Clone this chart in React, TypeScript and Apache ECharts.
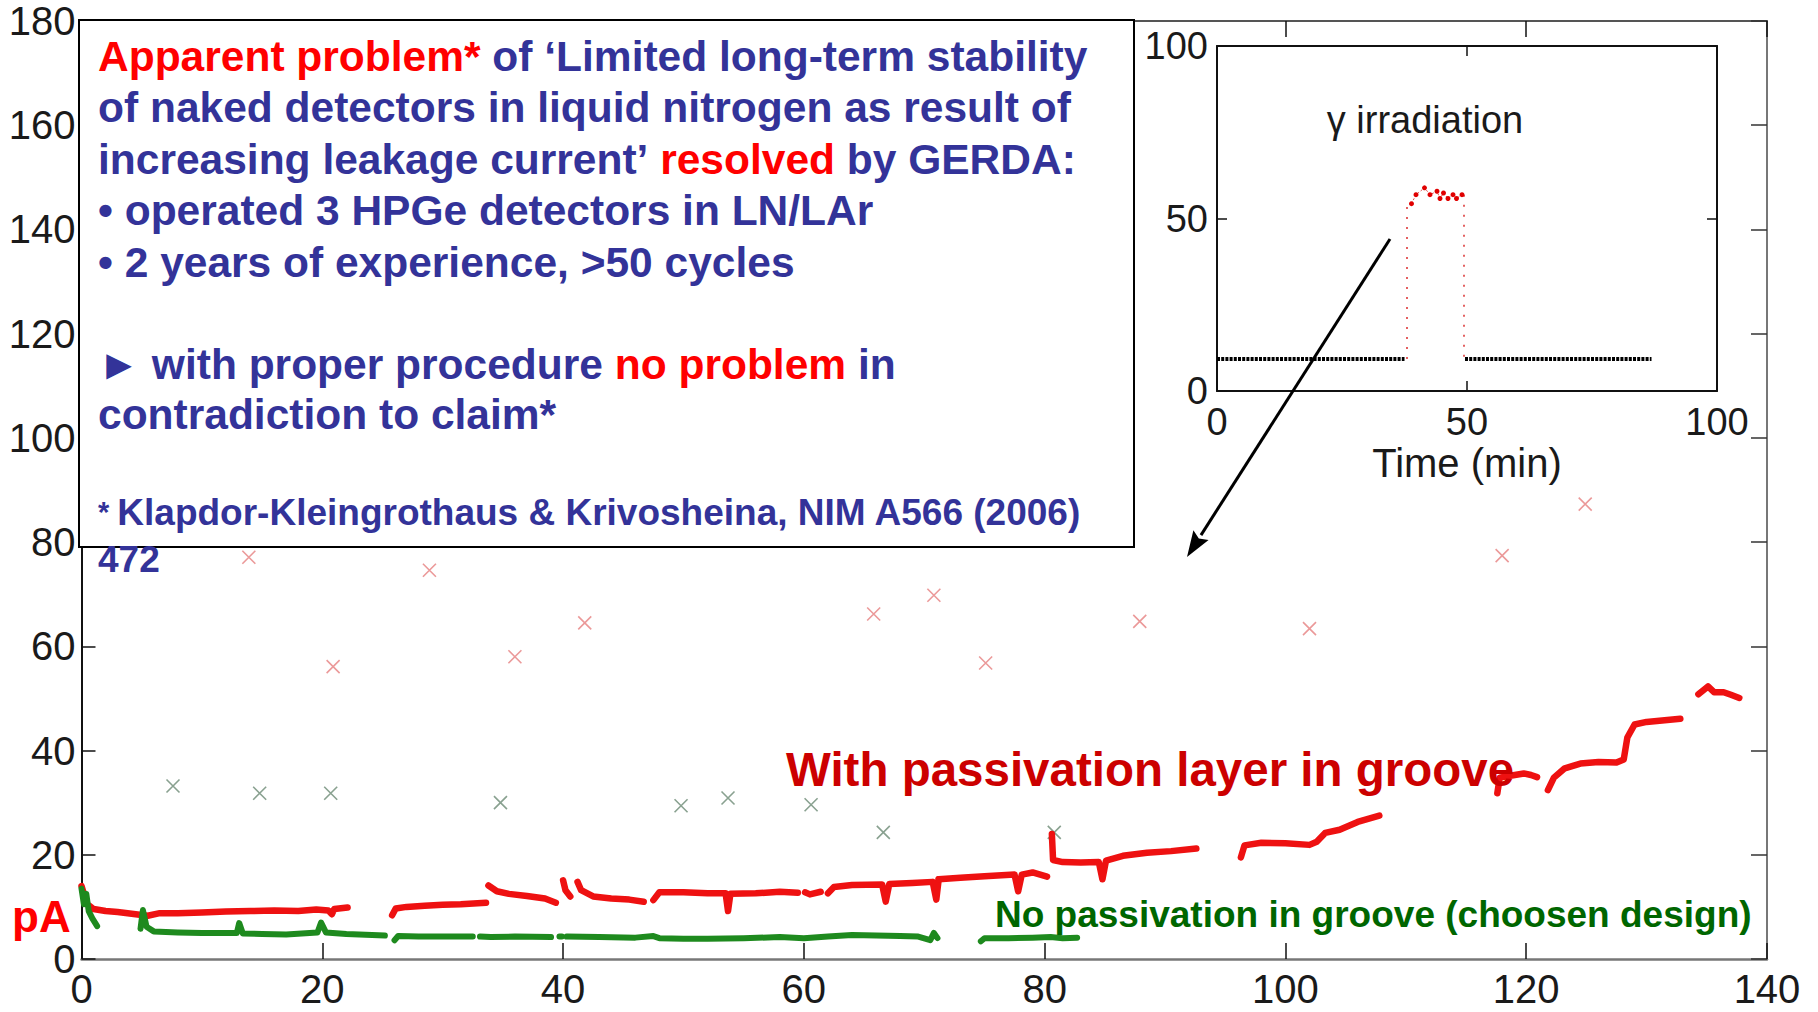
import React, { useEffect, useRef } from "react";
import * as echarts from "echarts";

const FONT = "'Liberation Sans', Arial, Helvetica, sans-serif";
const BLUE = "#333399";
const RED = "#ff0000";

// ---- main plot: leakage current (pA) vs. time (days) ----
const mainX = { min: 0, max: 140, interval: 20 };
const mainY = { min: 0, max: 180, interval: 20 };

// "With passivation layer in groove" (red) – segments
const red1 = [[0, 14], [0.2, 12.5], [0.5, 10.5], [1, 9.6], [2, 9.2], [3, 9.0], [4.5, 8.6], [5.5, 8.3], [6.5, 8.8], [8, 8.8], [10, 8.9], [12, 9.1], [14, 9.2], [16, 9.3], [18, 9.2], [19.5, 9.5], [20.5, 9.3], [20.8, 8.6], [21, 9.6], [22.1, 9.9]];
const red2 = [[25.8, 8.4], [26.1, 9.7], [27, 10.0], [28.5, 10.2], [30, 10.4], [31.5, 10.5], [33.6, 10.8]];
const red3 = [[33.8, 14.1], [34.5, 13.0], [35.5, 12.5], [37, 12.1], [38.5, 11.6], [39.4, 10.8]];
const red4 = [[40.0, 15.1], [40.2, 13.2], [40.6, 12.0]];
const red5 = [[41.2, 14.8], [41.5, 13.2], [42.5, 12.0], [44, 11.6], [45.5, 11.4], [46.7, 11.0]];
const red6 = [[47.5, 11.3], [48, 12.8], [50, 12.8], [52, 12.6], [53.5, 12.6], [53.7, 9.2], [53.9, 12.5], [56, 12.6], [58, 12.9], [59.5, 12.7]];
const red7 = [[60.1, 12.8], [60.5, 12.4], [61.4, 12.9]];
const red8 = [[62.0, 12.6], [62.5, 13.8], [64, 14.2], [66.5, 14.3], [66.8, 11.0], [67.1, 14.4], [69, 14.6], [70.7, 14.8], [71.0, 11.4], [71.2, 15.3]];
const red9 = [[71.2, 15.3], [73, 15.6], [75, 15.9], [77.5, 16.2], [77.8, 13.0], [78.1, 16.2], [79, 16.6], [80.2, 15.8]];
const red10 = [[80.6, 24], [80.7, 19.0], [81.5, 18.6], [83, 18.5], [84.5, 18.6], [84.8, 15.3], [85.1, 18.9], [86.5, 19.8], [88.5, 20.4], [90.5, 20.7], [92.6, 21.2]];
const red11 = [[96.3, 19.5], [96.6, 21.8], [98, 22.3], [100, 22.2], [102, 21.9], [102.6, 22.5], [103.3, 24.2], [104.5, 24.8], [106, 26.3], [107.8, 27.5]];
const red12 = [[117.6, 31.8], [117.8, 34.8], [118.8, 35.2], [119.8, 35.6], [120.4, 35.3], [120.9, 34.9]];
const red13 = [[121.8, 32.4], [122.3, 34.8], [123.2, 36.6], [124.5, 37.5], [126, 37.8], [127.5, 37.7], [128.1, 38.3], [128.4, 42.5], [129, 45.0], [130, 45.5], [131.5, 45.8], [132.8, 46.1]];
const red14 = [[134.3, 50.8], [135.1, 52.3], [135.6, 51.2], [136.4, 51.2], [137.0, 50.7], [137.7, 50.1]];

// "No passivation in groove" (green) – segments
const green1 = [[0, 13.5], [0.2, 10.5], [0.4, 12.5], [0.6, 9.2], [0.9, 7.8], [1.3, 6.3]];
const green2 = [[4.9, 5.8], [5.1, 9.4], [5.4, 6.2], [6, 5.3], [8, 5.1], [10, 5.0], [12.9, 5.0], [13.1, 6.9], [13.4, 4.9], [15, 4.8], [17, 4.7], [19.6, 5.1], [19.9, 7.0], [20.3, 5.1], [22, 4.8], [25.2, 4.5]];
const green3 = [[26, 3.6], [26.3, 4.4], [28, 4.3], [30, 4.3], [32.5, 4.3]];
const green4 = [[33.1, 4.3], [34, 4.2], [36, 4.3], [39, 4.2]];
const green5 = [[39.7, 4.3], [39.9, 4.3]];
const green6 = [[40.3, 4.3], [43, 4.2], [46, 4.1], [47.5, 4.4], [48, 4.0], [50, 3.9], [52, 3.9], [55, 4.0], [58, 4.2], [60, 4.0], [62, 4.3], [64, 4.6], [66, 4.5], [68, 4.4], [69.5, 4.3], [70.5, 3.6], [70.8, 5.0], [71.1, 4.0]];
const green7 = [[74.7, 3.4], [75, 4.0], [77, 4.0], [79, 4.1], [80.5, 4.2], [81.5, 4.0], [82.7, 4.1]];

// cross markers
const redCrosses = [[13.9, 77.1], [20.9, 56.1], [28.9, 74.6], [36.0, 58.0], [41.8, 64.5], [65.8, 66.2], [70.8, 69.8], [75.1, 56.8], [87.9, 64.8], [102.0, 63.4], [118.0, 77.4], [124.9, 87.3]];
const greenCrosses = [[7.6, 33.2], [14.8, 31.8], [20.7, 31.8], [34.8, 30.0], [49.8, 29.4], [53.7, 30.9], [60.6, 29.6], [66.6, 24.3], [80.8, 24.3]];

// ---- inset: gamma irradiation ----
const insetX = { min: 0, max: 100, interval: 50 };
const insetY = { min: 0, max: 100, interval: 50 };
const insetBefore = [[0, 9.3], [37.5, 9.3]];
const insetAfter = [[49.6, 9.3], [86.9, 9.3]];
const insetRise = [[38.0, 9.3], [38.0, 54.3]];
const insetFall = [[49.4, 56.9], [49.4, 9.3]];
const insetPeak = [[38.9, 54.3], [39.8, 56.9], [41.5, 58.9], [42.6, 56.9], [44.0, 57.9], [44.6, 55.8], [45.3, 57.4], [46.2, 55.8], [47.2, 56.9], [47.9, 55.8], [49.0, 56.9]];

// ---- texts ----
const boxLines = [
  "{r|Apparent problem*}{b| of ‘Limited long-term stability}",
  "{b|of naked detectors in liquid nitrogen as result of}",
  "{b|increasing leakage current’ }{r|resolved}{b| by GERDA:}",
  "{b|• operated 3 HPGe detectors in LN/LAr}",
  "{b|• 2 years of experience, >50 cycles}",
  "{b|► with proper procedure }{r|no problem}{b| in}",
  "{b|contradiction to claim*}",
];
const boxLineY = [56, 107, 159, 210, 262, 364, 414];
const footnote = ["{s|* }{f|Klapdor-Kleingrothaus & Krivosheina, NIM A566 (2006)}", "{f|472}"];
const footnoteY = [512, 559];
const redLabel = "With passivation layer in groove";
const greenLabel = "No passivation in groove (choosen design)";
const unitLabel = "pA";
const insetTitle = "γ irradiation";
const insetXName = "Time (min)";

const CROSS = "path://M0,0L10,10M10,0L0,10";

function lineSeries(data: number[][], color: string, width: number, xi: number, yi: number, z = 3) {
  return {
    type: "line",
    xAxisIndex: xi,
    yAxisIndex: yi,
    data,
    symbol: "none",
    z,
    lineStyle: { color, width, cap: "round", join: "round" },
  };
}

export default function App() {
  const ref = useRef<HTMLDivElement>(null);
  useEffect(() => {
    document.body.style.margin = "0";
    const chart = echarts.init(ref.current!, null, { renderer: "svg" });
    const redSegs = [red1, red2, red3, red4, red5, red6, red7, red8, red9, red10, red11, red12, red13, red14];
    const greenSegs = [green1, green2, green3, green4, green5, green6, green7];

    const tickLabel = { color: "#1a1a1a", fontSize: 40, fontFamily: FONT };
    const insetLabel = { color: "#1a1a1a", fontSize: 38, fontFamily: FONT };

    const richBox = {
      r: { fill: RED, fontSize: 42.5, fontWeight: "bold", fontFamily: FONT },
      b: { fill: BLUE, fontSize: 42.5, fontWeight: "bold", fontFamily: FONT },
      s: { fill: BLUE, fontSize: 29, fontWeight: "bold", fontFamily: FONT },
      f: { fill: BLUE, fontSize: 37, fontWeight: "bold", fontFamily: FONT },
    };

    const txt = (x: number, y: number, text: string, extra: any) => ({
      type: "text",
      x,
      y,
      z: 50,
      style: {
        text,
        fontFamily: FONT,
        fontWeight: "bold",
        align: "left",
        textAlign: "left",
        verticalAlign: "middle",
        textVerticalAlign: "middle",
        ...extra,
      },
    });

    // arrow geometry (annotation)
    const ax0 = 1390, ay0 = 239, ax1 = 1187, ay1 = 557;
    const dx = ax1 - ax0, dy = ay1 - ay0, L = Math.hypot(dx, dy);
    const ux = dx / L, uy = dy / L, nx = -uy, ny = ux;
    const bx = ax1 - 26 * ux, by = ay1 - 26 * uy;

    const graphic: any[] = [
      {
        type: "rect",
        z: 40,
        shape: { x: 79, y: 20, width: 1055, height: 527 },
        style: { fill: "#fff", stroke: "#000", lineWidth: 2 },
      },
      ...boxLines.map((t, i) => txt(98, boxLineY[i], t, { rich: richBox, fill: BLUE, fontSize: 42.5 })),
      ...footnote.map((t, i) => txt(98, footnoteY[i], t, { rich: richBox, fill: BLUE, fontSize: 37 })),
      txt(786, 769, redLabel, { fill: "#cc0000", fontSize: 47.5 }),
      txt(995, 914, greenLabel, { fill: "#006600", fontSize: 37 }),
      txt(12, 916, unitLabel, { fill: RED, fontSize: 44 }),
      {
        type: "text",
        x: 1425,
        y: 120,
        z: 50,
        style: {
          text: insetTitle,
          fill: "#1a1a1a",
          fontSize: 38,
          fontFamily: FONT,
          align: "center",
          textAlign: "center",
          verticalAlign: "middle",
          textVerticalAlign: "middle",
        },
      },
      {
        type: "line",
        z: 60,
        shape: { x1: ax0, y1: ay0, x2: bx, y2: by },
        style: { stroke: "#000", lineWidth: 3 },
      },
      {
        type: "polygon",
        z: 60,
        shape: {
          points: [
            [ax1, ay1],
            [bx + 9 * nx, by + 9 * ny],
            [bx + 4 * ux, by + 4 * uy],
            [bx - 9 * nx, by - 9 * ny],
          ],
        },
        style: { fill: "#000" },
      },
    ];

    const series: any[] = [
      ...redSegs.map((d) => lineSeries(d, "#ee1111", 6.5, 0, 0, 4)),
      ...greenSegs.map((d) => lineSeries(d, "#1e8a1e", 6, 0, 0, 4)),
      {
        type: "scatter",
        xAxisIndex: 0,
        yAxisIndex: 0,
        data: redCrosses,
        symbol: CROSS,
        symbolSize: 13,
        z: 3,
        itemStyle: { color: "transparent", borderColor: "#e68080", borderWidth: 1.6 },
      },
      {
        type: "scatter",
        xAxisIndex: 0,
        yAxisIndex: 0,
        data: greenCrosses,
        symbol: CROSS,
        symbolSize: 13,
        z: 3,
        itemStyle: { color: "transparent", borderColor: "#6b8a74", borderWidth: 1.6 },
      },
      {
        type: "line",
        xAxisIndex: 2,
        yAxisIndex: 2,
        data: insetBefore,
        symbol: "none",
        z: 10,
        lineStyle: { color: "#000", width: 4, type: [3, 1.2] },
      },
      {
        type: "line",
        xAxisIndex: 2,
        yAxisIndex: 2,
        data: insetAfter,
        symbol: "none",
        z: 10,
        lineStyle: { color: "#000", width: 4, type: [3, 1.2] },
      },
      {
        type: "line",
        xAxisIndex: 2,
        yAxisIndex: 2,
        data: insetRise,
        symbol: "none",
        z: 10,
        lineStyle: { color: "#e05050", width: 1.8, type: [2, 8] },
      },
      {
        type: "line",
        xAxisIndex: 2,
        yAxisIndex: 2,
        data: insetFall,
        symbol: "none",
        z: 10,
        lineStyle: { color: "#e05050", width: 1.8, type: [2, 8] },
      },
      {
        type: "line",
        xAxisIndex: 2,
        yAxisIndex: 2,
        data: insetPeak,
        symbol: "circle",
        symbolSize: 5,
        z: 11,
        itemStyle: { color: "#e00000" },
        lineStyle: { color: "#e05050", width: 1, type: [2, 2] },
      },
    ];

    const mainXBase = {
      type: "value",
      gridIndex: 0,
      ...mainX,
      splitLine: { show: false },
      axisTick: { show: true, inside: true, length: 16, lineStyle: { color: "#111", width: 1.5 } },
    };
    const mainYBase = {
      type: "value",
      gridIndex: 0,
      ...mainY,
      splitLine: { show: false },
      axisTick: { show: true, inside: true, length: 14, lineStyle: { color: "#111", width: 1.5 } },
    };
    const insetXBase = {
      type: "value",
      gridIndex: 1,
      ...insetX,
      splitLine: { show: false },
      axisTick: { show: true, inside: true, length: 10, lineStyle: { color: "#111", width: 1.5 } },
    };
    const insetYBase = {
      type: "value",
      gridIndex: 1,
      ...insetY,
      splitLine: { show: false },
      axisTick: { show: true, inside: true, length: 10, lineStyle: { color: "#111", width: 1.5 } },
    };

    chart.setOption({
      animation: false,
      backgroundColor: "#ffffff",
      grid: [
        { left: 81.5, right: 51, top: 21, bottom: 53 },
        { left: 1217, top: 46, width: 500, height: 345, show: true, backgroundColor: "#ffffff", borderWidth: 0 },
      ],
      xAxis: [
        {
          ...mainXBase,
          position: "bottom",
          axisLine: { show: true, onZero: false, lineStyle: { color: "#777", width: 2.5 } },
          axisLabel: { ...tickLabel, margin: 10 },
        },
        {
          ...mainXBase,
          position: "top",
          axisLine: { show: true, onZero: false, lineStyle: { color: "#555", width: 2 } },
          axisLabel: { show: false },
        },
        {
          ...insetXBase,
          position: "bottom",
          axisLine: { show: true, onZero: false, lineStyle: { color: "#111", width: 2 } },
          axisLabel: { ...insetLabel, margin: 12 },
          name: insetXName,
          nameLocation: "middle",
          nameGap: 52,
          nameTextStyle: { color: "#1a1a1a", fontSize: 40, fontFamily: FONT },
        },
        {
          ...insetXBase,
          position: "top",
          axisLine: { show: true, onZero: false, lineStyle: { color: "#111", width: 2 } },
          axisLabel: { show: false },
        },
      ],
      yAxis: [
        {
          ...mainYBase,
          position: "left",
          axisLine: { show: true, onZero: false, lineStyle: { color: "#111", width: 2 } },
          axisLabel: { ...tickLabel, margin: 6 },
        },
        {
          ...mainYBase,
          position: "right",
          axisTick: { show: true, inside: true, length: 16, lineStyle: { color: "#333", width: 1.5 } },
          axisLine: { show: true, onZero: false, lineStyle: { color: "#777", width: 2 } },
          axisLabel: { show: false },
        },
        {
          ...insetYBase,
          position: "left",
          axisLine: { show: true, onZero: false, lineStyle: { color: "#111", width: 2 } },
          axisLabel: { ...insetLabel, margin: 9 },
        },
        {
          ...insetYBase,
          position: "right",
          axisLine: { show: true, onZero: false, lineStyle: { color: "#111", width: 2 } },
          axisLabel: { show: false },
        },
      ],
      series,
      graphic,
    });
    return () => chart.dispose();
  }, []);
  return (
    <div
      ref={ref}
      style={{ position: "fixed", left: 0, top: 0, width: 1818, height: 1012, background: "#fff" }}
    />
  );
}
